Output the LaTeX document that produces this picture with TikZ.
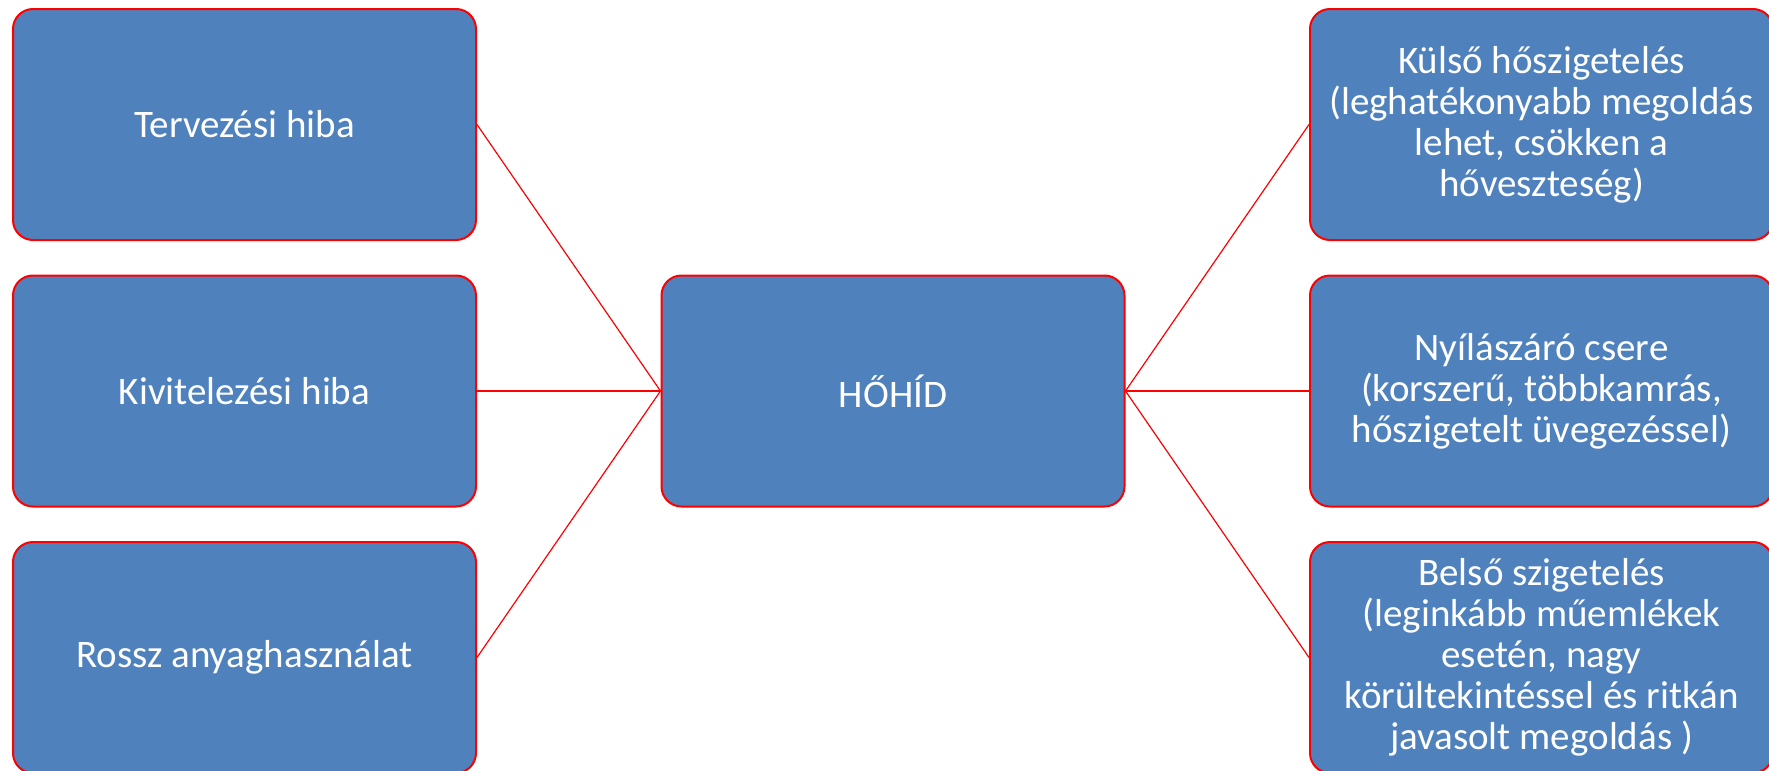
\documentclass[tikz,border=0pt]{standalone}
\usepackage{fontspec}
\setmainfont{Carlito}
\definecolor{boxblue}{HTML}{4F81BD}
\definecolor{edgered}{HTML}{FF0000}
\begin{document}
\begin{tikzpicture}[x=0.5pt,y=-0.5pt,
  box/.style={draw=edgered, line width=1pt, fill=boxblue, rounded corners=10pt,
    minimum width=231.5pt, minimum height=115.5pt, inner sep=2pt,
    text=white, align=center, font=\fontsize{19.5}{20.5}\selectfont},
  conn/.style={draw=edgered, line width=0.6pt}]
\useasboundingbox (0,0) rectangle (1769,771);
\node[box] (t) at (244.5,124.5) {Tervezési hiba};
\node[box] (k) at (244.5,391) {Kivitelezési hiba};
\node[box] (r) at (244.5,657.5) {Rossz anyaghasználat};
\node[box] (h) at (893,391) {HŐHÍD};
\node[box] (ku) at (1541.5,124.5) {Külső hőszigetelés\\(leghatékonyabb megoldás\\lehet, csökken a\\hőveszteség)};
\node[box] (ny) at (1541.5,391) {Nyílászáró csere\\(korszerű, többkamrás,\\hőszigetelt üvegezéssel)};
\node[box] (b) at (1541.5,657.5) {Belső szigetelés\\(leginkább műemlékek\\esetén, nagy\\körültekintéssel és ritkán\\javasolt megoldás )};
\draw[conn] (h.west) -- (t.east);
\draw[conn] (h.west) -- (k.east);
\draw[conn] (h.west) -- (r.east);
\draw[conn] (h.east) -- (ku.west);
\draw[conn] (h.east) -- (ny.west);
\draw[conn] (h.east) -- (b.west);
\end{tikzpicture}
\end{document}
